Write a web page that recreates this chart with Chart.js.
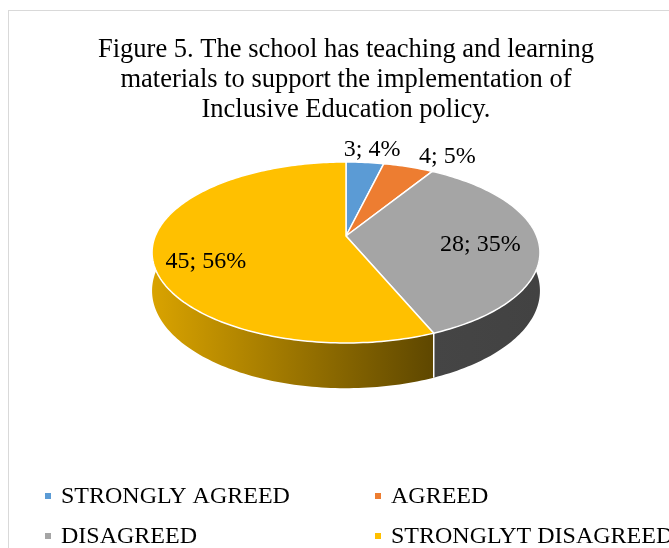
<!DOCTYPE html>
<html>
<head>
<meta charset="utf-8">
<script src="https://cdn.jsdelivr.net/npm/chart.js@4.4.1/dist/chart.umd.min.js"></script>
<style>
  html, body { margin: 0; padding: 0; background: #fff; overflow: hidden; }
  #frame { position: absolute; left: 8px; top: 10px; width: 720px; height: 600px; border: 1px solid #d9d9d9; }
  #chart { position: absolute; left: 0; top: 0; }
</style>
</head>
<body>
<div id="frame"></div>
<canvas id="chart" width="669" height="548"></canvas>
<script>
const categories = ['STRONGLY AGREED', 'AGREED', 'DISAGREED', 'STRONGLYT DISAGREED'];
const responses = [3, 4, 28, 45];
const sliceColors = ['#5B9BD5', '#ED7D31', '#A5A5A5', '#FFC000'];
const titleLines = [
    'Figure 5. The school has teaching and learning',
    'materials to support the implementation of',
    'Inclusive Education policy.'
];

// tilted disc look
const RX = 190.7;
const RY = 87.5;
const PERSPECTIVE = 0.182;
const DEPTH = 37;
const sideShade = [[0.8, 0.45], [0.8, 0.45], [0.42, 0.40], [0.85, 0.37]];
// [radius factor, dx, dy] for each value label
const labelPlace = [[1.2, 4, -1], [1.25, 26, 4], [0.7, 0, 4], [0.72, -2, 13]];

const serif = "'Liberation Serif', 'Times New Roman', serif";

function project(cx, cy, a, r, drop) {
    const s = Math.sin(a) * r;
    const f = 1 / (1 - PERSPECTIVE * s);
    return { x: cx + RX * r * Math.cos(a) * f, y: cy + RY * s * f + drop * f };
}

function shade(hex, k) {
    const n = parseInt(hex.slice(1), 16);
    const r = Math.round(((n >> 16) & 255) * k);
    const g = Math.round(((n >> 8) & 255) * k);
    const b = Math.round((n & 255) * k);
    return `rgb(${r},${g},${b})`;
}

function arcPoints(cx, cy, a0, a1, drop) {
    const pts = [];
    const steps = Math.max(2, Math.ceil((a1 - a0) / 0.02));
    for (let i = 0; i <= steps; i++) {
        pts.push(project(cx, cy, a0 + (a1 - a0) * i / steps, 1, drop));
    }
    return pts;
}

const pie3d = {
    id: 'pie3d',
    beforeDatasetsDraw() {
        return false;
    },
    afterDraw(chart) {
        const ctx = chart.ctx;
        const meta = chart.getDatasetMeta(0);
        const arcs = meta.data;
        const cx = arcs[0].x;
        const cy = arcs[0].y;
        const total = responses.reduce((a, b) => a + b, 0);
        const lo = -0.35, hi = Math.PI + 0.35;

        ctx.save();

        // side walls (front half only)
        arcs.forEach((arc, i) => {
            [-2 * Math.PI, 0, 2 * Math.PI].forEach(shift => {
                const s = Math.max(arc.startAngle + shift, lo);
                const e = Math.min(arc.endAngle + shift, hi);
                if (e <= s) return;
                const top = arcPoints(cx, cy, s, e, 0);
                const bottom = arcPoints(cx, cy, s, e, DEPTH).reverse();
                const xs = top.map(p => p.x);
                const grad = ctx.createLinearGradient(Math.min(...xs), 0, Math.max(...xs), 0);
                grad.addColorStop(0, shade(sliceColors[i], sideShade[i][0]));
                grad.addColorStop(1, shade(sliceColors[i], sideShade[i][1]));
                ctx.beginPath();
                top.concat(bottom).forEach((p, k) => k ? ctx.lineTo(p.x, p.y) : ctx.moveTo(p.x, p.y));
                ctx.closePath();
                ctx.fillStyle = grad;
                ctx.fill();
            });
        });

        // seams between slices on the wall
        ctx.strokeStyle = '#fff';
        ctx.lineWidth = 1.5;
        arcs.forEach(arc => {
            let a = arc.startAngle;
            while (a < 0) a += 2 * Math.PI;
            if (a > 0.05 && a < Math.PI - 0.05) {
                const p = project(cx, cy, a, 1, 0);
                const q = project(cx, cy, a, 1, DEPTH);
                ctx.beginPath();
                ctx.moveTo(p.x, p.y);
                ctx.lineTo(q.x, q.y);
                ctx.stroke();
            }
        });

        // top face
        ctx.lineJoin = 'round';
        arcs.forEach((arc, i) => {
            const pts = arcPoints(cx, cy, arc.startAngle, arc.endAngle, 0);
            ctx.beginPath();
            ctx.moveTo(cx, cy);
            pts.forEach(p => ctx.lineTo(p.x, p.y));
            ctx.closePath();
            ctx.fillStyle = sliceColors[i];
            ctx.fill();
            ctx.stroke();
        });

        // value labels
        ctx.fillStyle = '#000';
        ctx.font = `24px ${serif}`;
        ctx.textAlign = 'center';
        ctx.textBaseline = 'middle';
        arcs.forEach((arc, i) => {
            const mid = (arc.startAngle + arc.endAngle) / 2;
            const [r, dx, dy] = labelPlace[i];
            const p = project(cx, cy, mid, r, 0);
            const v = responses[i];
            ctx.fillText(`${v}; ${Math.round(v / total * 100)}%`, p.x + dx, p.y + dy);
        });

        // legend in two columns
        const items = chart.options.plugins.legend.labels.generateLabels(chart);
        const cols = [45, 375];
        const rows = [503, 543];
        ctx.textAlign = 'left';
        ctx.textBaseline = 'alphabetic';
        items.forEach((item, i) => {
            const x = cols[i % 2];
            const y = rows[Math.floor(i / 2)];
            ctx.fillStyle = item.fillStyle;
            ctx.fillRect(x, y - 10, 6, 6);
            ctx.fillStyle = '#000';
            ctx.fillText(item.text, x + 16, y);
        });

        ctx.restore();
    }
};

new Chart(document.getElementById('chart'), {
    type: 'pie',
    data: {
        labels: categories,
        datasets: [{
            data: responses,
            backgroundColor: sliceColors,
            borderColor: '#fff'
        }]
    },
    options: {
        responsive: false,
        animation: false,
        devicePixelRatio: 1,
        layout: {
            padding: { left: 23, bottom: 201.5 }
        },
        plugins: {
            title: {
                display: true,
                text: titleLines,
                color: '#000',
                font: { family: serif, size: 26.5, weight: 'normal', lineHeight: 30 / 26.5 },
                padding: { top: 35.5, bottom: 0 }
            },
            legend: { display: false },
            tooltip: { enabled: false }
        }
    },
    plugins: [pie3d]
});
</script>
</body>
</html>
